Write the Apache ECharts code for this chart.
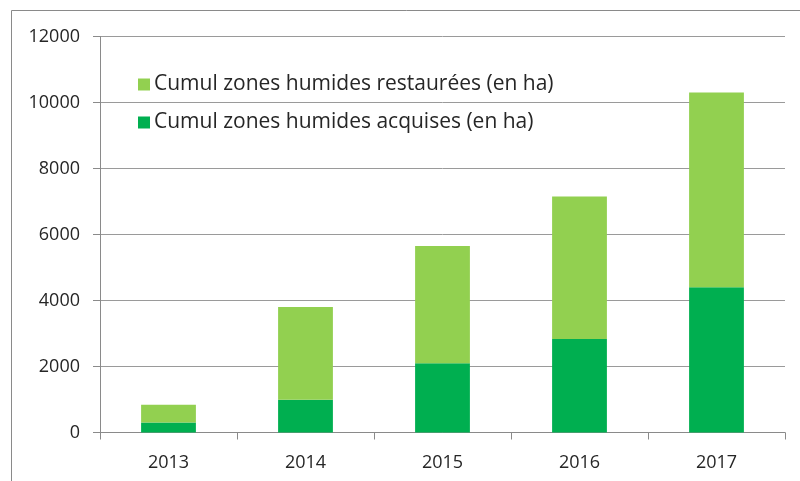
<!DOCTYPE html>
<html>
<head>
<meta charset="utf-8">
<script src="https://cdn.jsdelivr.net/npm/echarts@6/dist/echarts.min.js"></script>
<style>
html,body{margin:0;padding:0;background:#fff;}
#c{width:800px;height:481px;}
</style>
</head>
<body>
<div id="c"></div>
<script>
const categories = ['2013', '2014', '2015', '2016', '2017'];
const acquises = [300, 990, 2100, 2830, 4400];
const restaurees = [540, 2810, 3550, 4320, 5900];
const nameRestaurees = 'Cumul zones humides restaurées (en ha)';
const nameAcquises = 'Cumul zones humides acquises (en ha)';
const yTicks = [0, 2000, 4000, 6000, 8000, 10000, 12000];

const FONT = 'Open Sans';
const chart = echarts.init(document.getElementById('c'), null, {renderer: 'canvas'});
chart.setOption({
  animation: false,
  backgroundColor: '#fff',
  textStyle: {fontFamily: FONT},
  graphic: [{
    type: 'rect',
    shape: {x: 11.5, y: 10.5, width: 800, height: 480},
    style: {fill: 'none', stroke: '#8a8a8a', lineWidth: 1},
    silent: true
  }],
  grid: {left: 100, right: 15, top: 36.5, bottom: 48.5, outerBoundsMode: 'none', containLabel: false},
  legend: {
    orient: 'vertical',
    left: 133,
    top: 69,
    itemWidth: 12,
    itemHeight: 12,
    itemGap: 17,
    icon: 'rect',
    data: [nameRestaurees, nameAcquises],
    textStyle: {fontFamily: FONT, fontSize: 21, color: '#262626', padding: [0, 0, 0, -1]}
  },
  xAxis: {
    type: 'category',
    data: categories,
    axisLine: {lineStyle: {color: '#8a8a8a', width: 1}},
    axisTick: {show: true, length: 7, lineStyle: {color: '#8a8a8a'}},
    axisLabel: {fontFamily: FONT, fontSize: 18, color: '#262626', margin: 21}
  },
  yAxis: {
    type: 'value',
    min: yTicks[0],
    max: yTicks[yTicks.length - 1],
    interval: yTicks[1] - yTicks[0],
    axisLine: {show: true, lineStyle: {color: '#8a8a8a', width: 1}},
    axisTick: {show: true, length: 7, lineStyle: {color: '#8a8a8a'}},
    axisLabel: {fontFamily: FONT, fontSize: 18, color: '#262626', margin: 20,
      formatter: function (v) { return String(v); }},
    splitLine: {lineStyle: {color: '#9a9a9a', width: 1}}
  },
  series: [
    {
      name: nameAcquises,
      type: 'bar',
      stack: 'total',
      data: acquises,
      itemStyle: {color: '#00AF50'},
      barCategoryGap: '60%'
    },
    {
      name: nameRestaurees,
      type: 'bar',
      stack: 'total',
      data: restaurees,
      itemStyle: {color: '#92D050'},
      barCategoryGap: '60%'
    }
  ]
});
</script>
</body>
</html>
